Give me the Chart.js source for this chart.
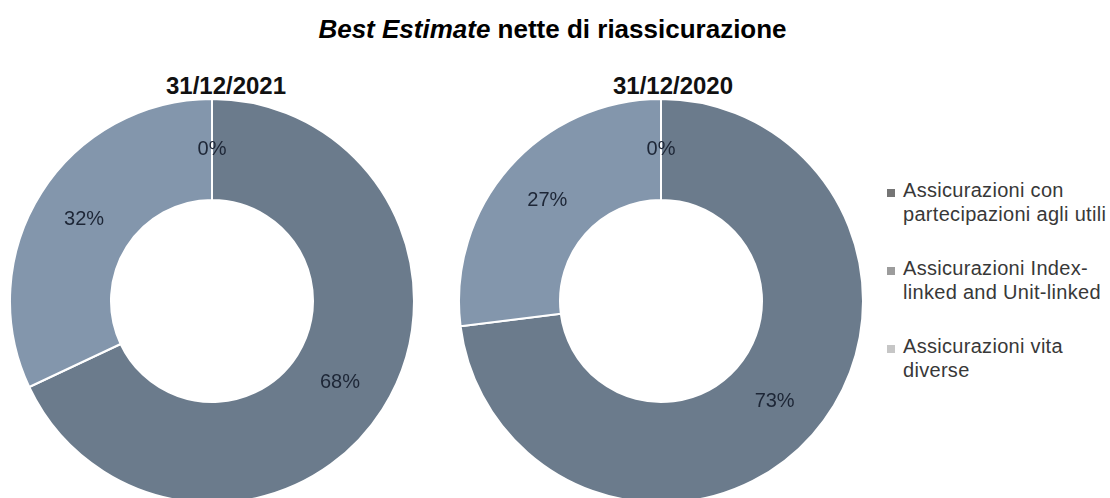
<!DOCTYPE html>
<html lang="it">
<head>
<meta charset="utf-8">
<title>Best Estimate nette di riassicurazione</title>
<script src="https://cdn.jsdelivr.net/npm/chart.js@4.4.0/dist/chart.umd.min.js"></script>
<style>
    html, body {
        margin: 0;
        padding: 0;
        width: 1110px;
        height: 498px;
        overflow: hidden;
        background: #ffffff;
        font-family: "Liberation Sans", Arial, sans-serif;
    }
    .main-title {
        position: absolute;
        left: 0;
        top: 14px;
        width: 1105px;
        text-align: center;
        font-size: 26px;
        line-height: 30px;
        font-weight: bold;
        color: #000;
    }
    .sub-title {
        position: absolute;
        top: 72px;
        width: 300px;
        text-align: center;
        font-size: 24px;
        line-height: 28px;
        font-weight: bold;
        color: #111;
    }
    canvas {
        position: absolute;
    }
    .legend {
        position: absolute;
        left: 887px;
        top: 179px;
    }
    .legend-item {
        position: relative;
        padding-left: 16px;
        margin-bottom: 31px;
        font-size: 20px;
        line-height: 23.5px;
        letter-spacing: 0.3px;
        color: #383838;
        white-space: nowrap;
    }
    .legend-box {
        position: absolute;
        left: 0;
        top: 10px;
        width: 8px;
        height: 8px;
    }
</style>
</head>
<body>

<div class="main-title"><i>Best Estimate</i> nette di riassicurazione</div>

<div class="sub-title" id="title-2021" style="left:76px"></div>
<div class="sub-title" id="title-2020" style="left:523px"></div>

<canvas id="chart-2021" width="406" height="406" style="left:9px;top:98px"></canvas>
<canvas id="chart-2020" width="406" height="406" style="left:458px;top:98px"></canvas>

<div class="legend" id="legend"></div>

<script>
//------------------------------------------ dati ------------------------------------------//
const categories = [
    ['Assicurazioni con', 'partecipazioni agli utili'],
    ['Assicurazioni Index-', 'linked and Unit-linked'],
    ['Assicurazioni vita', 'diverse']
];
const periods = ['31/12/2021', '31/12/2020'];
const values2021 = [68, 32, 0];
const values2020 = [73, 27, 0];

// colori delle fette e dei quadratini della legenda
const sliceColors = ['#6b7b8c', '#8396ac', '#c9cfd6'];
const legendColors = ['#757575', '#9c9c9c', '#c6c6c6'];

//---------------------------- percentuali dentro le fette --------------------------------//
const percentLabels = {
    id: 'percentLabels',
    afterDatasetsDraw(chart) {
        const ctx = chart.ctx;
        const values = chart.data.datasets[0].data;
        const total = values.reduce((a, b) => a + b, 0);

        ctx.save();
        ctx.font = '20px "Liberation Sans", Arial, sans-serif';
        ctx.fillStyle = '#1d2636';
        ctx.textAlign = 'center';
        ctx.textBaseline = 'middle';

        chart.getDatasetMeta(0).data.forEach((arc, i) => {
            const pos = arc.tooltipPosition(true);
            const pct = Math.round(values[i] / total * 100);
            ctx.fillText(pct + '%', pos.x, pos.y);
        });
        ctx.restore();
    }
};

//----------------------------------- ciambella -------------------------------------------//
function drawDoughnut(canvasId, titleId, period, values) {
    document.getElementById(titleId).textContent = period;

    const config = {
        type: 'doughnut',
        data: {
            labels: categories,
            datasets: [{
                data: values,
                backgroundColor: sliceColors,
                borderColor: '#ffffff',
                borderWidth: 2
            }]
        },
        options: {
            responsive: false,
            animation: false,
            cutout: '50%',
            layout: { padding: 0 },
            plugins: {
                legend: { display: false },
                tooltip: { enabled: false }
            }
        },
        plugins: [percentLabels]
    };

    new Chart(document.getElementById(canvasId), config);
}

//------------------------------------- legenda -------------------------------------------//
function buildLegend() {
    const legend = document.getElementById('legend');
    categories.forEach((lines, i) => {
        const item = document.createElement('div');
        item.classList.add('legend-item');

        const box = document.createElement('span');
        box.classList.add('legend-box');
        box.style.background = legendColors[i];
        item.appendChild(box);

        lines.forEach(line => {
            const row = document.createElement('div');
            row.textContent = line;
            item.appendChild(row);
        });

        legend.appendChild(item);
    });
}

drawDoughnut('chart-2021', 'title-2021', periods[0], values2021);
drawDoughnut('chart-2020', 'title-2020', periods[1], values2020);
buildLegend();
</script>
</body>
</html>
